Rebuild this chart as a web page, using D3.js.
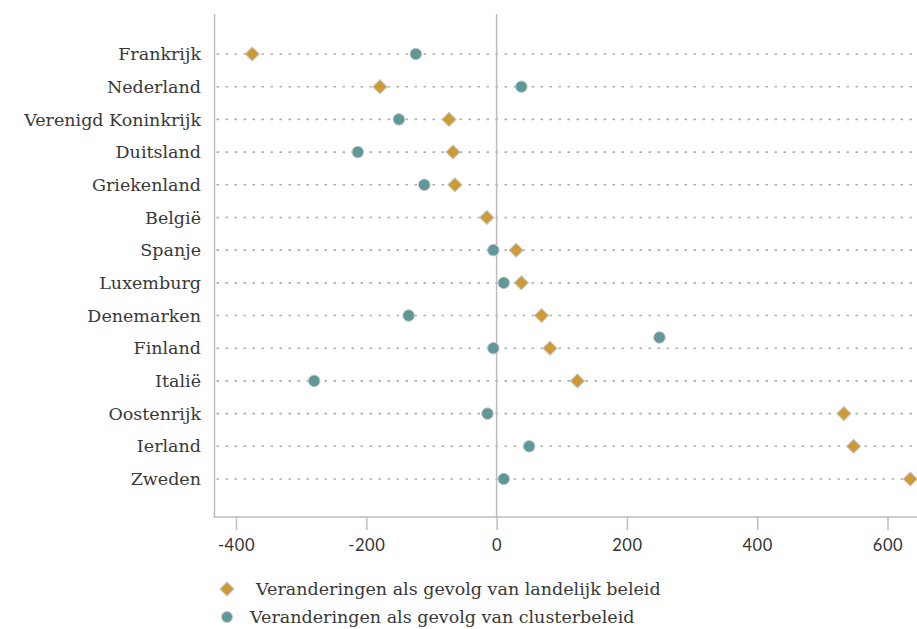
<!DOCTYPE html>
<html><head><meta charset="utf-8">
<script src="https://cdn.jsdelivr.net/npm/d3@7"></script>
<style>body{margin:0;background:#fff;overflow:hidden}svg{display:block}</style>
</head><body>
<svg id="c" width="917" height="629"></svg>
<script>
const countries = ["Frankrijk","Nederland","Verenigd Koninkrijk","Duitsland","Griekenland","België","Spanje","Luxemburg","Denemarken","Finland","Italië","Oostenrijk","Ierland","Zweden"];
const landelijk = [-375,-179,-73,-67,-64,-15,30,38,69,82,124,533,548,635];
const cluster = [-124,38,-150,-213,-111,null,-5,11,-135,-5,-280,-14,50,11];
// an extra cluster point drawn slightly above the Finland row
const extraCluster = [{country:"Finland", value:250, rowShift:-0.33}];
const xTicks = [-400,-200,0,200,400,600];
const legendLabels = ["Veranderingen als gevolg van landelijk beleid","Veranderingen als gevolg van clusterbeleid"];

const gold = "#cc9b36", teal = "#5f9898";
const serif = "'DejaVu Serif', serif";
const svg = d3.select("#c");
const x = d3.scaleLinear().domain([-400,600]).range([236,887.5]);
const yIdx = d3.scaleLinear().domain([0,countries.length-1]).range([54,479]);
const y = c => yIdx(countries.indexOf(c));
const axisLeft = 214.5, axisTop = 14, axisBottom = 517;

// dotted guide lines
svg.append("g").selectAll("line").data(countries).join("line")
  .attr("x1", axisLeft+2).attr("x2", 917)
  .attr("y1", d=>y(d)).attr("y2", d=>y(d))
  .attr("stroke","#adadad").attr("stroke-width",1.6)
  .attr("stroke-dasharray","2.5,6.5");

// y axis line
svg.append("line").attr("x1",axisLeft).attr("x2",axisLeft).attr("y1",axisTop).attr("y2",axisBottom)
  .attr("stroke","#bdbdbd").attr("stroke-width",1.5);
// zero line
svg.append("line").attr("x1",x(0)).attr("x2",x(0)).attr("y1",axisTop).attr("y2",axisBottom)
  .attr("stroke","#bdbdbd").attr("stroke-width",1.5);

// x axis
const gx = svg.append("g").attr("transform",`translate(0,${axisBottom})`)
  .call(d3.axisBottom(x).tickValues(xTicks).tickSize(13).tickPadding(9).tickFormat(d=>String(d)));
gx.select(".domain").remove();
svg.append("line").attr("x1",axisLeft-1).attr("x2",917).attr("y1",axisBottom).attr("y2",axisBottom)
  .attr("stroke","#bdbdbd").attr("stroke-width",1.5);
gx.selectAll(".tick line").attr("stroke","#bdbdbd").attr("stroke-width",1.5);
gx.selectAll(".tick text").attr("fill","#333").style("font-family","Lato, 'Open Sans', sans-serif").style("font-size","16.5px").style("letter-spacing","0.6px");

// y labels
svg.append("g").selectAll("text").data(countries).join("text")
  .attr("x",201).attr("y",d=>y(d)).attr("dy","0.35em").attr("text-anchor","end")
  .attr("fill","#383838").style("font-family",serif).style("font-size","17.5px")
  .text(d=>d);

// cluster circles
const clusterPts = countries.map((c,i)=>({c, v:cluster[i], s:0})).filter(d=>d.v!==null)
  .concat(extraCluster.map(d=>({c:d.country, v:d.value, s:d.rowShift})));
svg.append("g").selectAll("circle").data(clusterPts).join("circle")
  .attr("cx",d=>x(d.v)).attr("cy",d=>yIdx(countries.indexOf(d.c)+d.s)).attr("r",5.8)
  .attr("fill",teal).attr("stroke","#c8c8c8").attr("stroke-width",1);

// landelijk diamonds
const diamond = d3.symbol().type(d3.symbolSquare).size(100);
svg.append("g").selectAll("path").data(countries.map((c,i)=>({c, v:landelijk[i]}))).join("path")
  .attr("d",diamond)
  .attr("transform",d=>`translate(${x(d.v)},${y(d.c)}) rotate(45)`)
  .attr("fill",gold).attr("stroke","#c8c8c8").attr("stroke-width",1);

// legend
const lg = svg.append("g");
lg.append("path").attr("d",diamond).attr("transform","translate(227,589) rotate(45)")
  .attr("fill",gold).attr("stroke","#c8c8c8").attr("stroke-width",1);
lg.append("circle").attr("cx",227).attr("cy",617).attr("r",5.5).attr("fill",teal).attr("stroke","#c8c8c8");
lg.selectAll("text").data(legendLabels).join("text")
  .attr("x",(d,i)=>i===0?256:250).attr("y",(d,i)=>589+i*28).attr("dy","0.35em")
  .attr("fill","#383838").style("font-family",serif).style("font-size","17.5px")
  .text(d=>d);
</script>
</body></html>
